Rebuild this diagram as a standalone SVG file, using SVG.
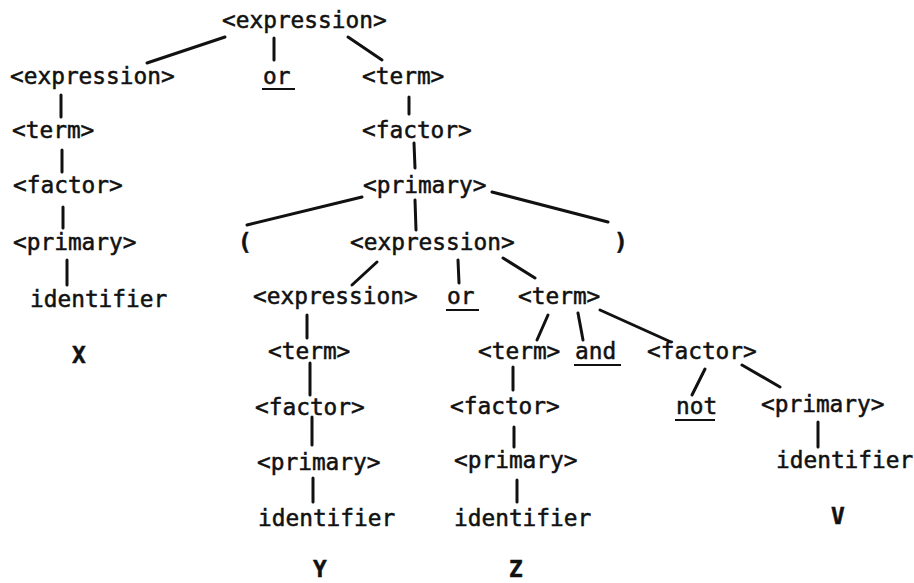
<svg xmlns="http://www.w3.org/2000/svg" width="914" height="583" viewBox="0 0 914 583">
<style>
text{font-family:"DejaVu Sans Mono","Liberation Mono",monospace;font-size:22.8px;fill:#111;stroke:#111;stroke-width:0.5}
.b{font-weight:bold}
.c line{stroke:#111;stroke-width:3;stroke-linecap:round}
.u{stroke:#111;stroke-width:2}
</style>
<rect width="914" height="583" fill="#fff"/>
<g class="c" id="connectors">
<line x1="225" y1="37" x2="147" y2="63"/>
<line x1="274" y1="38" x2="274" y2="60"/>
<line x1="348" y1="37" x2="382" y2="60"/>
<line x1="61" y1="95" x2="61" y2="117"/>
<line x1="62" y1="150" x2="62" y2="172"/>
<line x1="63" y1="207" x2="63" y2="228"/>
<line x1="67" y1="260" x2="67" y2="285"/>
<line x1="409" y1="97" x2="409" y2="114"/>
<line x1="414" y1="143" x2="415" y2="168"/>
<line x1="362" y1="197" x2="247" y2="225"/>
<line x1="415" y1="200" x2="416" y2="230"/>
<line x1="492" y1="192" x2="608" y2="222"/>
<line x1="377" y1="262" x2="352" y2="285"/>
<line x1="458" y1="260" x2="459" y2="283"/>
<line x1="503" y1="258" x2="535" y2="278"/>
<line x1="307" y1="315" x2="307" y2="338"/>
<line x1="310" y1="363" x2="310" y2="395"/>
<line x1="312" y1="417" x2="312" y2="445"/>
<line x1="313" y1="478" x2="313" y2="502"/>
<line x1="548" y1="315" x2="537" y2="340"/>
<line x1="578" y1="313" x2="583" y2="340"/>
<line x1="600" y1="310" x2="671" y2="342"/>
<line x1="513" y1="367" x2="513" y2="390"/>
<line x1="514" y1="427" x2="514" y2="447"/>
<line x1="517" y1="480" x2="517" y2="502"/>
<line x1="705" y1="369" x2="692" y2="395"/>
<line x1="742" y1="365" x2="780" y2="387"/>
<line x1="818" y1="422" x2="818" y2="447"/>
</g>
<g id="n1"><text x="222" y="28">&lt;expression&gt;</text></g>
<g id="n2"><text x="10" y="84">&lt;expression&gt;</text></g>
<g id="n3"><text x="263" y="84">or</text><line class="u" x1="262" y1="89" x2="295" y2="89"/></g>
<g id="n4"><text x="362" y="84">&lt;term&gt;</text></g>
<g id="n5"><text x="12" y="138">&lt;term&gt;</text></g>
<g id="n6"><text x="362" y="138">&lt;factor&gt;</text></g>
<g id="n7"><text x="13" y="193">&lt;factor&gt;</text></g>
<g id="n8"><text x="363" y="193">&lt;primary&gt;</text></g>
<g id="n9"><text x="13" y="250">&lt;primary&gt;</text></g>
<g id="n10"><text class="b" x="238" y="250">(</text></g>
<g id="n11"><text x="350" y="250">&lt;expression&gt;</text></g>
<g id="n12"><text class="b" x="614" y="250">)</text></g>
<g id="n13"><text x="30" y="307">identifier</text></g>
<g id="n14"><text class="b" x="72" y="363">X</text></g>
<g id="n15"><text x="253" y="304">&lt;expression&gt;</text></g>
<g id="n16"><text x="447" y="304">or</text><line class="u" x1="446" y1="310" x2="479" y2="310"/></g>
<g id="n17"><text x="518" y="304">&lt;term&gt;</text></g>
<g id="n18"><text x="268" y="359">&lt;term&gt;</text></g>
<g id="n19"><text x="478" y="359">&lt;term&gt;</text></g>
<g id="n20"><text x="575" y="359">and</text><line class="u" x1="574" y1="365" x2="621" y2="365"/></g>
<g id="n21"><text x="647" y="359">&lt;factor&gt;</text></g>
<g id="n22"><text x="255" y="415">&lt;factor&gt;</text></g>
<g id="n23"><text x="450" y="414">&lt;factor&gt;</text></g>
<g id="n24"><text x="676" y="414">not</text><line class="u" x1="675" y1="420" x2="715" y2="420"/></g>
<g id="n25"><text x="761" y="412">&lt;primary&gt;</text></g>
<g id="n26"><text x="257" y="470">&lt;primary&gt;</text></g>
<g id="n27"><text x="454" y="468">&lt;primary&gt;</text></g>
<g id="n28"><text x="776" y="468">identifier</text></g>
<g id="n29"><text x="258" y="526">identifier</text></g>
<g id="n30"><text x="454" y="526">identifier</text></g>
<g id="n31"><text class="b" x="831" y="524">V</text></g>
<g id="n32"><text class="b" x="313" y="577">Y</text></g>
<g id="n33"><text class="b" x="509" y="577">Z</text></g>
</svg>
